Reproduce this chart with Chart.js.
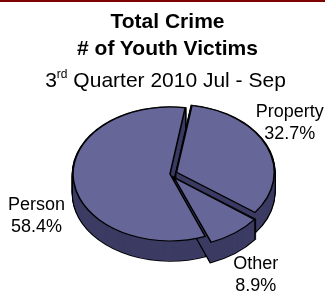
<!DOCTYPE html>
<html lang="en">
<head>
  <meta charset="UTF-8">
  <title>Total Crime - Youth Victims</title>
  <script src="https://cdn.jsdelivr.net/npm/chart.js"></script>
  <style>
    html, body { margin: 0; padding: 0; background: #fff; }
    .frame { position: relative; width: 325px; height: 298px; overflow: hidden; border-top: 2px solid #800000; box-sizing: border-box; }
    .ttl { position: absolute; left: 5px; width: 325px; text-align: center; color: #000; font-family: "Liberation Sans", Arial, sans-serif; z-index: 2; white-space: nowrap; }
    .t1 { top: 8px; font-size: 21px; font-weight: bold; line-height: 21px; }
    .t2 { top: 35px; font-size: 21px; font-weight: bold; line-height: 21px; }
    .t3 { top: 67px; left: 3px; font-size: 21px; line-height: 21px; }
    .t3 sup { font-size: 12px; vertical-align: 9px; line-height: 0; }
    canvas { position: absolute; left: 0; top: -2px; }
  </style>
</head>
<body>
  <div class="frame">
    <div class="ttl t1">Total Crime</div>
    <div class="ttl t2"># of Youth Victims</div>
    <div class="ttl t3">3<sup>rd</sup> Quarter 2010 Jul - Sep</div>
    <canvas id="pie" width="325" height="298"></canvas>
  </div>

  <script>
    // data (percent of youth victims)
    const categories = ['Property', 'Other', 'Person'];
    const shares = [32.7, 8.9, 58.4];
    const explode = [28, 28, 0];

    const SQUASH = 0.69;   // tilt of the pie
    const DEPTH = 20;      // thickness in px
    const TOP = '#666699';
    const SIDE = '#3b3b63';
    // label nudges from the rim, px
    const nudge = [[30, -32], [27, 42], [-37, 29]];

    const tilt = {
      id: 'tilt',
      beforeDatasetsDraw(chart) {
        const meta = chart.getDatasetMeta(0);
        const ctx = chart.ctx;
        const cx = meta.data[0].x, cy = meta.data[0].y;
        ctx.save();
        ctx.translate(cx, cy);
        ctx.scale(1, SQUASH);
        ctx.translate(-cx, -cy);

        [0, 2, 1].forEach(i => {
          const a = meta.data[i];
          const off = (a.options.offset || 0) / 4;
          const mid = (a.startAngle + a.endAngle) / 2;
          const fix = 1 - Math.sin(Math.min(Math.PI, a.circumference));
          const r = a.outerRadius + off * fix;
          const ox = a.x + Math.cos(mid) * off;
          const oy = a.y + Math.sin(mid) * off;
          const wedge = dy => {
            ctx.beginPath();
            ctx.moveTo(ox, oy + dy);
            ctx.arc(ox, oy + dy, r, a.startAngle, a.endAngle);
            ctx.closePath();
          };
          ctx.strokeStyle = '#000';
          ctx.lineWidth = 2.6;
          for (let d = DEPTH; d >= 0; d--) { wedge(d / SQUASH); ctx.stroke(); }
          ctx.fillStyle = SIDE;
          for (let d = DEPTH; d >= 0; d--) { wedge(d / SQUASH); ctx.fill(); }
        });
      },
      afterDatasetsDraw(chart) {
        chart.ctx.restore();
      }
    };

    const labels = {
      id: 'pieLabels',
      afterDraw(chart) {
        const meta = chart.getDatasetMeta(0);
        const ctx = chart.ctx;
        ctx.save();
        ctx.fillStyle = '#000';
        ctx.font = '18px "Liberation Sans", Arial, sans-serif';
        ctx.textAlign = 'center';
        ctx.textBaseline = 'alphabetic';
        meta.data.forEach((a, i) => {
          const mid = (a.startAngle + a.endAngle) / 2;
          const x = a.x + Math.cos(mid) * a.outerRadius + nudge[i][0];
          const y = a.y + Math.sin(mid) * a.outerRadius * SQUASH + nudge[i][1];
          ctx.fillText(categories[i], x, y);
          ctx.fillText(shares[i].toFixed(1) + '%', x, y + 22);
        });
        ctx.restore();
      }
    };

    new Chart(document.getElementById('pie').getContext('2d'), {
      type: 'pie',
      data: {
        labels: categories,
        datasets: [{
          data: shares,
          backgroundColor: TOP,
          borderColor: '#000',
          borderWidth: 1.6,
          borderJoinStyle: 'miter',
          offset: explode
        }]
      },
      options: {
        responsive: false,
        animation: false,
        events: [],
        rotation: 9,
        radius: 97,
        layout: { padding: { left: 15, top: 50, right: 0, bottom: 0 } },
        plugins: {
          legend: { display: false },
          title: { display: false },
          tooltip: { enabled: false }
        }
      },
      plugins: [tilt, labels]
    });
  </script>
</body>
</html>
